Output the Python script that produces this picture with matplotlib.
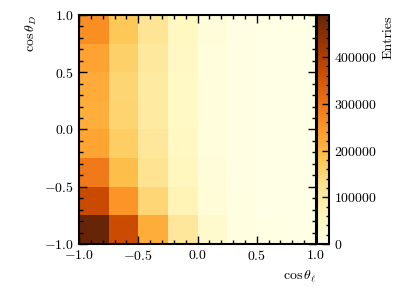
import numpy as np
import matplotlib
matplotlib.use("Agg")
import matplotlib.pyplot as plt
from matplotlib.ticker import AutoMinorLocator, MultipleLocator

plt.rcParams['font.family'] = 'serif'
plt.rcParams['font.serif'] = ['cmr10']
plt.rcParams['mathtext.fontset'] = 'cm'
plt.rcParams['axes.formatter.use_mathtext'] = True
plt.rcParams['font.size'] = 10

# bin edges
x_edges = np.linspace(-1, 1, 9)
y_edges = np.linspace(-1, 1, 9)

# entries per bin, columns = cos theta_l bins (left->right), listed bottom->top
col1 = [490000, 370000, 292000, 228000, 216000, 220000, 232000, 262000]
col2 = [368000, 252000, 192000, 166000, 152000, 150000, 160000, 176000]
col3 = [218000, 148000, 122000, 110000, 102000, 102000, 106000, 116000]
col4 = [110000, 72000, 60000, 52000, 48000, 48000, 50000, 56000]
col5 = [36000, 22000, 18000, 16000, 16000, 16000, 16000, 18000]
col6 = [8000, 6000, 5000, 5000, 5000, 5000, 5000, 5000]
col7 = [2000, 1500, 1500, 1500, 1500, 1500, 1500, 1500]
col8 = [500, 500, 500, 500, 500, 500, 500, 500]

H = np.array([col1, col2, col3, col4, col5, col6, col7, col8]).T

fig = plt.figure(figsize=(3.99, 2.99), dpi=100)
ax = fig.add_axes([0.198, 0.184, 0.594, 0.766])
cax = fig.add_axes([0.795, 0.184, 0.030, 0.766])

mesh = ax.pcolormesh(x_edges, y_edges, H, cmap='YlOrBr', vmin=0, vmax=H.max())
cb = fig.colorbar(mesh, cax=cax)
cb.set_label('Entries', loc='top')
cb.ax.yaxis.set_major_locator(MultipleLocator(100000))
cb.ax.yaxis.set_minor_locator(MultipleLocator(20000))
cb.ax.tick_params(which='both', direction='in', width=1.0)
cb.ax.tick_params(which='major', length=5)
cb.ax.tick_params(which='minor', length=2.5)
cb.outline.set_linewidth(1.5)

ax.set_xlim(-1, 1)
ax.set_ylim(-1, 1)
ax.xaxis.set_major_locator(MultipleLocator(0.5))
ax.yaxis.set_major_locator(MultipleLocator(0.5))
ax.xaxis.set_minor_locator(AutoMinorLocator(5))
ax.yaxis.set_minor_locator(AutoMinorLocator(5))
ax.tick_params(which='both', direction='in', top=True, right=True, width=1.0)
ax.tick_params(which='major', length=6)
ax.tick_params(which='minor', length=3)
for s in ax.spines.values():
    s.set_linewidth(1.5)

ax.set_xlabel(r'$\cos\theta_\ell$', loc='right')
ax.set_ylabel(r'$\cos\theta_D$', loc='top')

fig.savefig('out.png', dpi=100)
